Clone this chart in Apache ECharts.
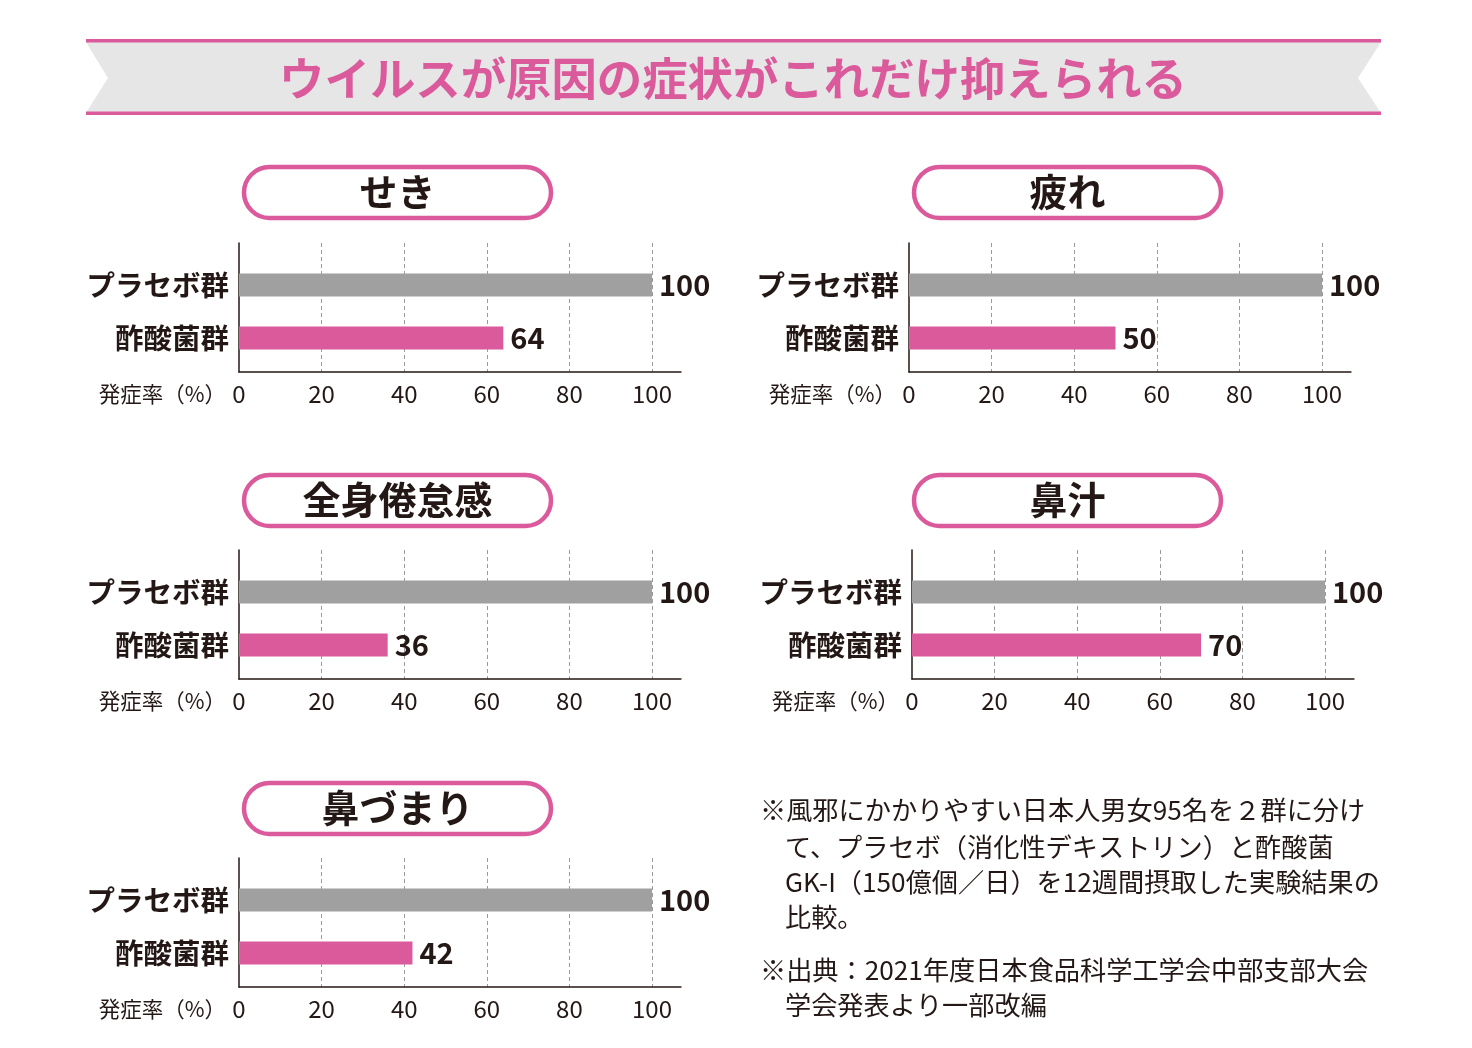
<!DOCTYPE html>
<html><head><meta charset="utf-8">
<script src="https://cdn.jsdelivr.net/npm/echarts@6/dist/echarts.min.js"></script>
<style>html,body{margin:0;padding:0;background:#fff}#c{width:1472px;height:1048px}</style>
</head><body><div id="c"></div>
<script>
// ---- data ----
const mainTitle = 'ウイルスが原因の症状がこれだけ抑えられる';
const panelTitles = ['せき', '疲れ', '全身倦怠感', '鼻汁', '鼻づまり'];
const groups = ['プラセボ群', '酢酸菌群'];
const placeboValues = [100, 100, 100, 100, 100];
const aceticValues = [64, 50, 36, 70, 42];
const axisTitle = '発症率（%）';
const noteLines = [
  '※風邪にかかりやすい日本人男女95名を２群に分け',
  'て、プラセボ（消化性デキストリン）と酢酸菌',
  'GK-I（150億個／日）を12週間摂取した実験結果の',
  '比較。',
  '※出典：2021年度日本食品科学工学会中部支部大会',
  '学会発表より一部改編'
];

// ---- style / layout ----
const PINK = '#da5a9c', GRAY = '#a0a0a0', INK = '#231815';
const FONT = '"Noto Sans CJK JP", "Noto Sans", sans-serif';
const layout = [
  {x0: 239, x100: 652, top: 243, pillX: 242, pillY: 165},
  {x0: 909, x100: 1322, top: 243, pillX: 912, pillY: 165},
  {x0: 239, x100: 652, top: 550, pillX: 242, pillY: 473},
  {x0: 912, x100: 1325, top: 550, pillX: 912, pillY: 473},
  {x0: 239, x100: 652, top: 858, pillX: 242, pillY: 781}
];
const AXIS_MAX = 107;

const grid = [], xAxis = [], yAxis = [], series = [], graphic = [];

// banner
graphic.push({type: 'polygon', shape: {points: [[86,42],[1381,42],[1358,78],[1381,113],[86,113],[108,78]]}, style: {fill: '#e6e6e6'}});
graphic.push({type: 'rect', shape: {x: 86, y: 39, width: 1295, height: 3.5}, style: {fill: PINK}});
graphic.push({type: 'rect', shape: {x: 86, y: 111.5, width: 1295, height: 3.5}, style: {fill: PINK}});
graphic.push({type: 'text', x: 733, y: 79, style: {text: mainTitle, fill: PINK, font: 'bold 45.4px ' + FONT, textAlign: 'center', textVerticalAlign: 'middle'}});

layout.forEach((p, i) => {
  const w = (p.x100 - p.x0) * AXIS_MAX / 100;
  // axes grid
  const ga = grid.length;
  grid.push({left: p.x0, top: p.top, width: w, height: 129});
  xAxis.push({gridIndex: ga, type: 'value', min: 0, max: AXIS_MAX, interval: 20,
    axisLine: {show: true, lineStyle: {color: INK, width: 1.5}}, axisTick: {show: false},
    axisLabel: {show: true, showMaxLabel: false, margin: 10, fontSize: 24, color: INK, fontFamily: FONT},
    splitLine: {show: true, showMinLine: false, showMaxLine: false, lineStyle: {color: '#9a9a9a', type: [4, 3], width: 1}}});
  yAxis.push({gridIndex: ga, type: 'value', min: 0, max: 1,
    axisLine: {show: true, onZero: false, lineStyle: {color: INK, width: 1.5}}, axisTick: {show: false},
    axisLabel: {show: false}, splitLine: {show: false}});
  // bars grid
  const gb = grid.length;
  grid.push({left: p.x0, top: p.top + 15.5, width: w, height: 106});
  xAxis.push({gridIndex: gb, type: 'value', min: 0, max: AXIS_MAX, show: false});
  yAxis.push({gridIndex: gb, type: 'category', inverse: true, data: groups,
    axisLine: {show: false}, axisTick: {show: false}, splitLine: {show: false},
    axisLabel: {margin: 10, fontSize: 28.5, fontWeight: 'bold', color: INK, fontFamily: FONT}});
  series.push({type: 'bar', xAxisIndex: gb, yAxisIndex: gb, barWidth: 23, silent: true,
    data: [{value: placeboValues[i], itemStyle: {color: GRAY}}, {value: aceticValues[i], itemStyle: {color: PINK}}],
    label: {show: true, position: 'right', distance: 7, fontSize: 29, fontWeight: 'bold', color: INK, fontFamily: FONT}});
  // axis title
  graphic.push({type: 'text', x: p.x0 - 13, y: p.top + 151, style: {text: axisTitle, fill: INK, font: '21.5px ' + FONT, textAlign: 'right', textVerticalAlign: 'middle'}});
  // pill title
  graphic.push({type: 'rect', shape: {x: p.pillX + 2, y: p.pillY + 2, width: 307, height: 51, r: 25.5}, style: {fill: '#fff', stroke: PINK, lineWidth: 4.5}});
  graphic.push({type: 'text', x: p.pillX + 155.5, y: p.pillY + 27, style: {text: panelTitles[i], fill: INK, font: 'bold 38px ' + FONT, textAlign: 'center', textVerticalAlign: 'middle'}});
});

// notes
const noteX = [760, 785, 785, 785, 760, 785];
const noteY = [810, 847, 882, 917, 970, 1005];
noteLines.forEach((t, k) => {
  graphic.push({type: 'text', x: noteX[k], y: noteY[k], style: {text: t, fill: INK, font: '26.2px ' + FONT, textAlign: 'left', textVerticalAlign: 'middle'}});
});

const chart = echarts.init(document.getElementById('c'), null, {renderer: 'canvas'});
chart.setOption({animation: false, backgroundColor: '#fff', grid, xAxis, yAxis, series, graphic});
</script></body></html>
